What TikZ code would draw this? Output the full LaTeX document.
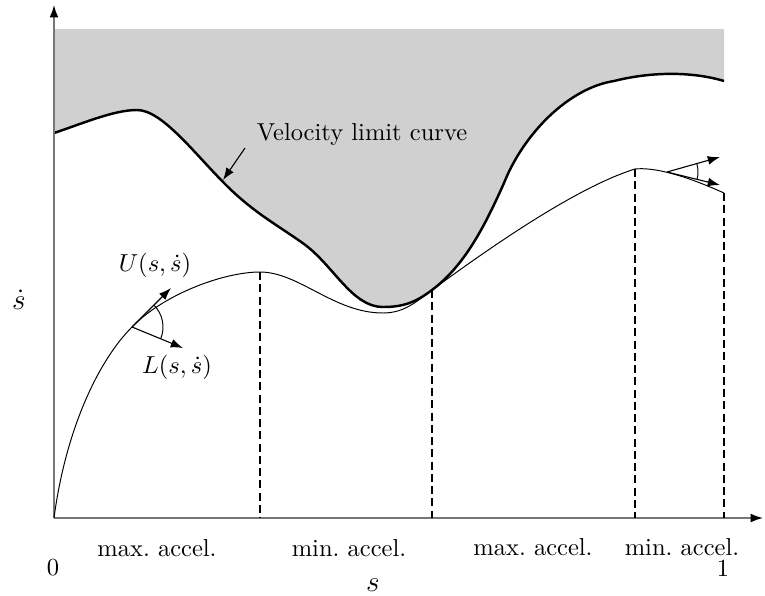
\documentclass[tikz,border=0pt]{standalone}
\usetikzlibrary{arrows.meta}
\definecolor{limitgray}{HTML}{D0D0D0}
\definecolor{axisgray}{HTML}{777777}
\newcommand{\vlcpath}{(0,385) .. controls (30,395) and (60,408) .. (83,408)
  .. controls (108,408) and (140,365) .. (172,333)
  .. controls (200,305) and (225,292) .. (250,274)
  .. controls (280,252) and (298,211) .. (329,211)
  .. controls (350,211) and (362,216) .. (378,228)
  .. controls (410,252) and (430,290) .. (450,335)
  .. controls (470,385) and (515,430) .. (560,437)
  .. controls (600,447) and (640,446) .. (670,437)}

\begin{document}
\begin{tikzpicture}[x=0.408pt,y=0.408pt]
\tikzset{
  axis/.style={draw=axisgray,line width=0.6pt,-{Latex[length=5pt,width=3.6pt,color=black]}},
  limitcurve/.style={line width=1pt},
  profile/.style={line width=0.4pt},
  switchline/.style={line width=0.55pt,dash pattern=on 3.3pt off 1.7pt},
  tangent/.style={line width=0.45pt,-{Latex[length=5pt,width=3.6pt]}},
  lbl/.style={inner sep=1pt}
}
\useasboundingbox (-54,-77) rectangle (711,518);
% region above the velocity limit curve
\fill[limitgray] (0,489) -- \vlcpath -- (670,489) -- cycle;
\draw[limitcurve] \vlcpath;
% axes
\coordinate (O) at (0,0);
\coordinate (xend) at (709,0);
\coordinate (yend) at (0,513);
\draw[axis] (O) -- (xend);
\draw[axis] (O) -- (yend);
% trajectory
\draw[profile] (O) .. controls (12,90) and (45,158) .. (78,191)
  .. controls (110,224) and (170,246) .. (206,246)
  .. controls (245,246) and (280,205) .. (329,205)
  .. controls (350,205) and (362,216) .. (378,228)
  .. controls (430,266) and (520,330) .. (581,349)
  .. controls (600,351) and (630,343) .. (670,325);
% switching points
\coordinate (sw_1) at (206,246);
\coordinate (sw_2) at (378,228);
\coordinate (sw_3) at (581,349);
\coordinate (sw_4) at (670,325);
\coordinate (ax_1) at (206,0);
\coordinate (ax_2) at (378,0);
\coordinate (ax_3) at (581,0);
\coordinate (ax_4) at (670,0);
\draw[switchline] (sw_1) -- (ax_1);
\draw[switchline] (sw_2) -- (ax_2);
\draw[switchline] (sw_3) -- (ax_3);
\draw[switchline] (sw_4) -- (ax_4);
% cone at the first point
\coordinate (tp_a) at (78,191);
\coordinate (tu_a) at (117,230);
\coordinate (tl_a) at (129,170);
\draw[tangent] (tp_a) -- (tu_a);
\draw[tangent] (tp_a) -- (tl_a);
\draw[line width=0.4pt] (tp_a) ++(45:31) arc[start angle=45,end angle=-22,radius=31];
% cone at the second point
\coordinate (tp_b) at (613,346);
\coordinate (tu_b) at (666,361);
\coordinate (tl_b) at (666,333);
\draw[tangent] (tp_b) -- (tu_b);
\draw[tangent] (tp_b) -- (tl_b);
\draw[line width=0.4pt] (tp_b) ++(16:31) arc[start angle=16,end angle=-14,radius=31];
% labels
\node[lbl] (n_vlc) at (308,383) {Velocity limit curve};
\coordinate (vlc_from) at (191,370);
\coordinate (vlc_to) at (169,338);
\draw[tangent] (vlc_from) -- (vlc_to);
\node[lbl] (n_U) at (101,253) {$U(s,\dot{s})$};
\node[lbl] (n_L) at (123,151) {$L(s,\dot{s})$};
\node[lbl,font=\large] (n_sdot) at (-35,218) {$\dot{s}$};
\node[lbl,font=\large] (n_s) at (319,-67) {$s$};
\node[lbl] (n_zero) at (-1,-50) {0};
\node[lbl] (n_one) at (669,-50) {1};
\node[lbl] (n_max1) at (103,-30) {max.\ accel.};
\node[lbl] (n_min1) at (295,-30) {min.\ accel.};
\node[lbl] (n_max2) at (479,-29) {max.\ accel.};
\node[lbl] (n_min2) at (628,-29) {min.\ accel.};
\end{tikzpicture}
\end{document}
